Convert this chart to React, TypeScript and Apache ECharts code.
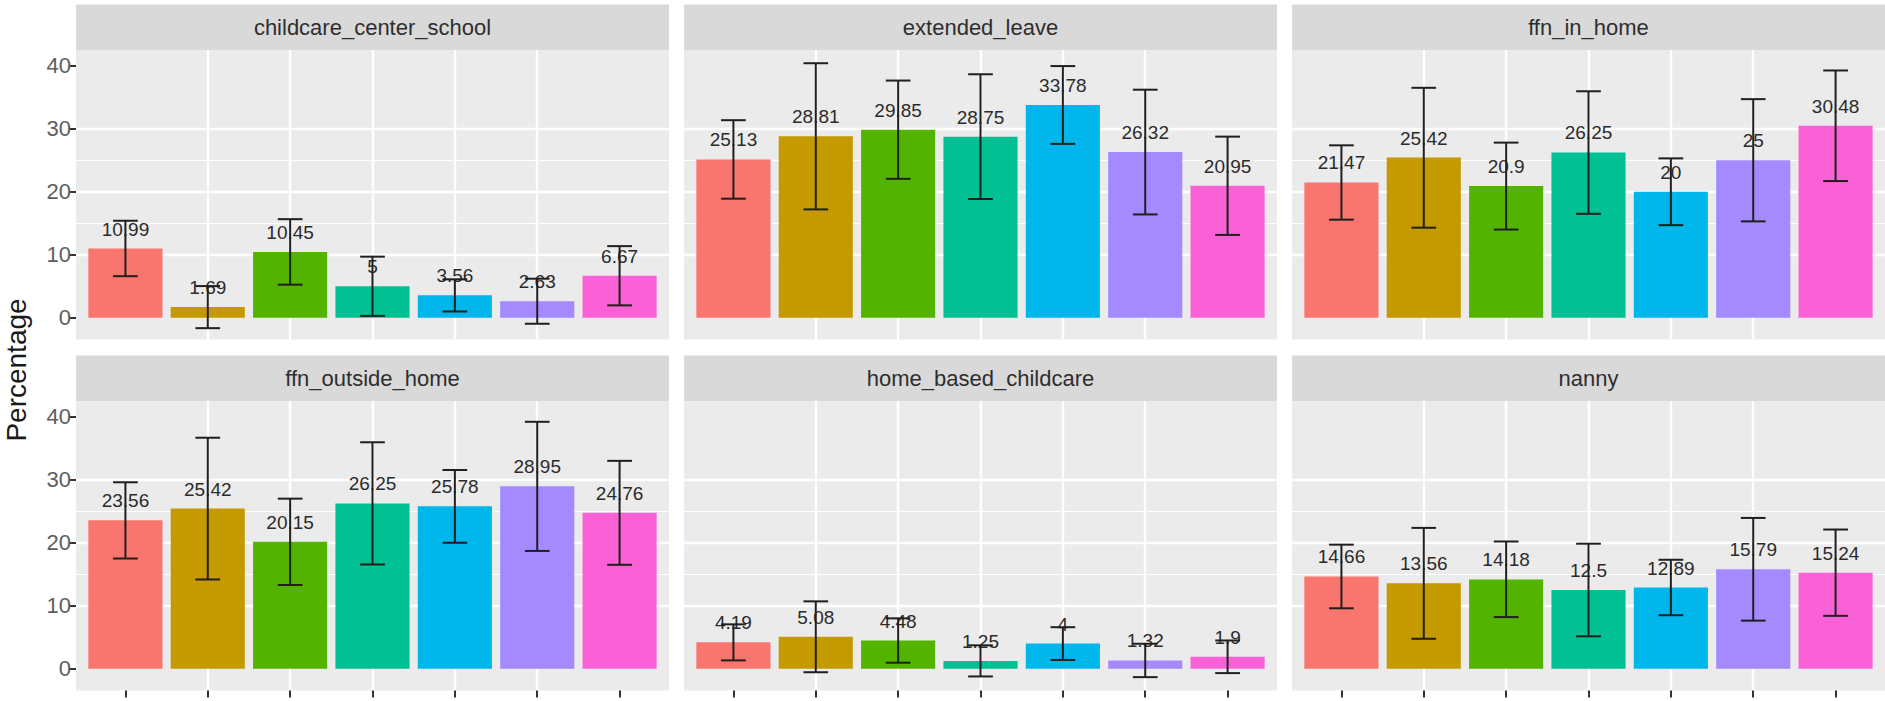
import React, { useEffect, useRef } from "react";
import * as echarts from "echarts";

// ---------- data ----------
const panelNames = [
  "childcare_center_school",
  "extended_leave",
  "ffn_in_home",
  "ffn_outside_home",
  "home_based_childcare",
  "nanny",
];
const groupPositions = [1, 2, 3, 4, 5, 6, 7];
const groupColors = ["#F8766D", "#C49A00", "#53B400", "#00C094", "#00B6EB", "#A58AFF", "#FB61D7"];

const childcareCenterSchool = [10.99, 1.69, 10.45, 5, 3.56, 2.63, 6.67];
const childcareCenterSchoolLow = [6.6, -1.65, 5.25, 0.3, 1.0, -0.95, 1.97];
const childcareCenterSchoolHigh = [15.4, 5.03, 15.65, 9.7, 6.1, 6.2, 11.37];

const extendedLeave = [25.13, 28.81, 29.85, 28.75, 33.78, 26.32, 20.95];
const extendedLeaveLow = [18.9, 17.2, 22.05, 18.85, 27.6, 16.4, 13.15];
const extendedLeaveHigh = [31.36, 40.4, 37.65, 38.65, 39.95, 36.2, 28.75];

const ffnInHome = [21.47, 25.42, 20.9, 26.25, 20, 25, 30.48];
const ffnInHomeLow = [15.57, 14.3, 14.0, 16.5, 14.7, 15.3, 21.7];
const ffnInHomeHigh = [27.37, 36.5, 27.8, 35.95, 25.3, 34.7, 39.25];

const ffnOutsideHome = [23.56, 25.42, 20.15, 26.25, 25.78, 28.95, 24.76];
const ffnOutsideHomeLow = [17.5, 14.17, 13.3, 16.55, 20.0, 18.7, 16.5];
const ffnOutsideHomeHigh = [29.6, 36.67, 27.0, 35.95, 31.55, 39.2, 33.0];

const homeBasedChildcare = [4.19, 5.08, 4.48, 1.25, 4, 1.32, 1.9];
const homeBasedChildcareLow = [1.33, -0.55, 0.96, -1.22, 1.4, -1.33, -0.69];
const homeBasedChildcareHigh = [7.05, 10.7, 8.0, 3.72, 6.6, 3.97, 4.49];

const nanny = [14.66, 13.56, 14.18, 12.5, 12.89, 15.79, 15.24];
const nannyLow = [9.6, 4.76, 8.2, 5.15, 8.5, 7.64, 8.4];
const nannyHigh = [19.7, 22.36, 20.2, 19.85, 17.3, 23.94, 22.1];

const yMajorTicks = [0, 10, 20, 30, 40];
const yMinorTicks = [5, 15, 25, 35];
const yMin = -3.45;
const yMax = 42.5;
const xMin = 0.4;
const xMax = 7.6;

const panelValues = [childcareCenterSchool, extendedLeave, ffnInHome, ffnOutsideHome, homeBasedChildcare, nanny];
const panelLow = [childcareCenterSchoolLow, extendedLeaveLow, ffnInHomeLow, ffnOutsideHomeLow, homeBasedChildcareLow, nannyLow];
const panelHigh = [childcareCenterSchoolHigh, extendedLeaveHigh, ffnInHomeHigh, ffnOutsideHomeHigh, homeBasedChildcareHigh, nannyHigh];

// ---------- layout ----------
const FONT = '"Liberation Sans", Arial, Helvetica, sans-serif';
const colLefts = [76, 684, 1292];
const panelW = 593;
const stripTops = [4.5, 355.5];
const stripH = 45.5;
const plotTops = [50, 401];
const plotH = 289.5;

export default function App() {
  const ref = useRef<HTMLDivElement>(null);

  useEffect(() => {
    if (!ref.current) return;
    const chart = echarts.init(ref.current, undefined, { renderer: "svg" });

    const grids: any[] = [];
    const xAxes: any[] = [];
    const yAxes: any[] = [];
    const series: any[] = [];
    const graphics: any[] = [];

    const unitPx = panelW / (xMax - xMin);

    panelNames.forEach((name, i) => {
      const col = i % 3;
      const row = Math.floor(i / 3);
      const left = colLefts[col];
      const top = plotTops[row];
      const isLeft = col === 0;
      const isBottom = row === 1;

      grids.push({
        left,
        top,
        width: panelW,
        height: plotH,
        show: true,
        backgroundColor: "#EBEBEB",
        borderWidth: 0,
        containLabel: false,
      });

      xAxes.push({
        type: "value",
        gridIndex: i,
        min: xMin,
        max: xMax,
        position: "bottom",
        axisLine: { show: false, onZero: false },
        axisLabel: { show: false },
        axisTick: {
          show: isBottom,
          customValues: groupPositions,
          length: 7,
          lineStyle: { color: "#333333", width: 2 },
        },
        splitLine: {
          show: true,
          showMinLine: false,
          showMaxLine: false,
          lineStyle: { color: "#FFFFFF", width: 2.4 },
        },
      });

      yAxes.push({
        type: "value",
        gridIndex: i,
        min: yMin,
        max: yMax,
        position: "left",
        axisLine: { show: false },
        axisTick: {
          show: isLeft,
          customValues: yMajorTicks,
          length: 7,
          lineStyle: { color: "#333333", width: 2 },
        },
        axisLabel: {
          show: isLeft,
          customValues: yMajorTicks,
          fontSize: 22,
          fontFamily: FONT,
          color: "#5e5e5e",
          margin: 5,
        },
        splitLine: {
          show: true,
          showMinLine: false,
          showMaxLine: false,
          lineStyle: { color: "#FFFFFF", width: 2.4 },
        },
      });
      yAxes.push({
        type: "value",
        gridIndex: i,
        min: yMin,
        max: yMax,
        position: "left",
        axisLine: { show: false },
        axisTick: { show: false, customValues: yMinorTicks },
        axisLabel: { show: false, customValues: yMinorTicks },
        splitLine: {
          show: true,
          showMinLine: false,
          showMaxLine: false,
          lineStyle: { color: "#FFFFFF", width: 1.2 },
        },
      });

      const vals = panelValues[i];
      series.push({
        type: "bar",
        name: name,
        xAxisIndex: i,
        yAxisIndex: i * 2,
        barWidth: 0.9 * unitPx,
        z: 2,
        data: vals.map((v, k) => ({
          value: [groupPositions[k], v],
          itemStyle: { color: groupColors[k] },
        })),
        label: {
          show: true,
          position: "top",
          distance: 10,
          fontSize: 19,
          fontFamily: FONT,
          color: "#2b2b2b",
          formatter: (p: any) => String(p.value[1]),
        },
      });

      const lows = panelLow[i];
      const highs = panelHigh[i];
      series.push({
        type: "custom",
        xAxisIndex: i,
        yAxisIndex: i * 2,
        z: 6,
        encode: { x: 0, y: [1, 2] },
        data: groupPositions.map((x, k) => [x, lows[k], highs[k]]),
        renderItem: (params: any, api: any) => {
          const x = api.value(0);
          const lo = api.coord([x, api.value(1)]);
          const hi = api.coord([x, api.value(2)]);
          const half = api.size([0.15, 0])[0];
          const style = { stroke: "#1f1f1f", lineWidth: 2 };
          return {
            type: "group",
            children: [
              { type: "line", shape: { x1: lo[0], y1: lo[1], x2: hi[0], y2: hi[1] }, style },
              { type: "line", shape: { x1: hi[0] - half, y1: hi[1], x2: hi[0] + half, y2: hi[1] }, style },
              { type: "line", shape: { x1: lo[0] - half, y1: lo[1], x2: lo[0] + half, y2: lo[1] }, style },
            ],
          };
        },
      });

      graphics.push({
        type: "rect",
        shape: { x: left, y: stripTops[row], width: panelW, height: stripH },
        style: { fill: "#D9D9D9" },
        silent: true,
      });
      graphics.push({
        type: "text",
        x: left + panelW / 2,
        y: stripTops[row] + stripH / 2,
        style: {
          text: name,
          fill: "#2e2e2e",
          fontSize: 22,
          fontFamily: FONT,
          align: "center",
          verticalAlign: "middle",
          textAlign: "center",
          textVerticalAlign: "middle",
        },
        silent: true,
      });
    });

    graphics.push({
      type: "text",
      x: 16,
      y: 370,
      rotation: Math.PI / 2,
      style: {
        text: "Percentage",
        fill: "#1a1a1a",
        fontSize: 28,
        fontFamily: FONT,
        align: "center",
        verticalAlign: "middle",
        textAlign: "center",
        textVerticalAlign: "middle",
      },
      silent: true,
    });

    chart.setOption({
      animation: false,
      backgroundColor: "#FFFFFF",
      grid: grids,
      xAxis: xAxes,
      yAxis: yAxes,
      series,
      graphic: graphics,
    });

    return () => chart.dispose();
  }, []);

  return (
    <div
      ref={ref}
      style={{ position: "absolute", left: 0, top: 0, width: 1885, height: 701, background: "#fff" }}
    />
  );
}
